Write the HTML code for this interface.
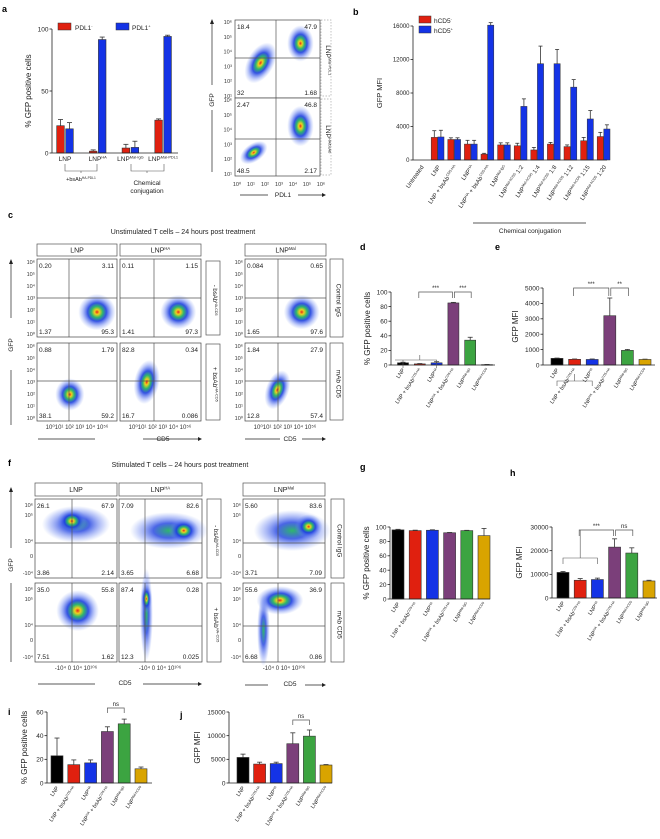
<!DOCTYPE html>
<html><head><meta charset="utf-8">
<style>
html,body{margin:0;padding:0;background:#fff;}
svg{display:block;font-family:"Liberation Sans",Arial,sans-serif;}
</style></head>
<body>
<svg id="fig" width="660" height="839" viewBox="0 0 660 839" xmlns="http://www.w3.org/2000/svg">
<defs>
<radialGradient id="blob" cx="50%" cy="50%" r="50%">
<stop offset="0" stop-color="#e8261a"/>
<stop offset="0.13" stop-color="#f0d020"/>
<stop offset="0.3" stop-color="#2fb86a"/>
<stop offset="0.5" stop-color="#1d3fe0" stop-opacity="0.9"/>
<stop offset="0.8" stop-color="#5a78f0" stop-opacity="0.35"/>
<stop offset="1" stop-color="#7090f0" stop-opacity="0"/>
</radialGradient>
<radialGradient id="blobw" cx="50%" cy="50%" r="50%">
<stop offset="0" stop-color="#2fb86a"/>
<stop offset="0.4" stop-color="#1d3fe0" stop-opacity="0.8"/>
<stop offset="0.8" stop-color="#5a78f0" stop-opacity="0.3"/>
<stop offset="1" stop-color="#7090f0" stop-opacity="0"/>
</radialGradient>
</defs>
<g id="root"></g>
</svg>
<script>
// ---------- DATA ----------
const aCats = ["LNP","LNP^HA","LNP^Mal-IgG","LNP^Mal-PDL1"];
const aNeg = [22, 1.5, 4, 26.5];
const aNegErr = [5, 1, 3, 1];
const aPos = [19.5, 91.5, 4.5, 94];
const aPosErr = [5, 2, 5, 1];
const aTicks = [0, 50, 100];

const bCats = ["Untreated","LNP","LNP + bsAb^CD5-HA","LNP^HA","LNP^HA + bsAb^CD5-HA","LNP^Mal-IgG","LNP^Mal-hCD5 1:2","LNP^Mal-hCD5 1:4","LNP^Mal-hCD5 1:8","LNP^Mal-hCD5 1:12","LNP^Mal-hCD5 1:15","LNP^Mal-hCD5 1:20"];
const bNeg = [0, 2700, 2450, 1900, 700, 1800, 1700, 1200, 1900, 1600, 2300, 2800];
const bNegErr = [0, 800, 200, 450, 100, 250, 300, 300, 200, 200, 400, 500];
const bPos = [0, 2750, 2450, 1900, 16100, 1800, 6400, 11500, 11500, 8700, 4900, 3700];
const bPosErr = [0, 800, 200, 450, 300, 250, 900, 2100, 1700, 900, 1000, 500];
const bTicks = [0, 4000, 8000, 12000, 16000];

const six1 = ["LNP","LNP + bsAb^CD5-HA","LNP^HA","LNP^HA + bsAb^CD5-HA","LNP^Mal-IgG","LNP^Mal-hCD5"];
const six2 = ["LNP","LNP + bsAb^CD5-HA","LNP^HA","LNP^HA + bsAb^CD5-HA","LNP^Mal-hCD5","LNP^Mal-IgG"];
const sixColors = ["#000000","#e0200f","#1433e6","#7b3f7a","#3ca441","#d9a400"];

const dVals = [3, 1.5, 3, 85, 34, 0.5];
const dErr = [0.8, 0.5, 1.5, 0.8, 4, 0.2];
const dTicks = [0, 20, 40, 60, 80, 100];
const eVals = [430, 370, 360, 3200, 950, 360];
const eErr = [20, 20, 30, 1150, 60, 20];
const eTicks = [0, 1000, 2000, 3000, 4000, 5000];
const gVals = [96, 95, 95.5, 92, 95, 88];
const gErr = [0.8, 0.6, 0.6, 0.4, 0.4, 10];
const gTicks = [0, 20, 40, 60, 80, 100];
const hVals = [10800, 7500, 7800, 21500, 19000, 7200];
const hErr = [400, 700, 600, 3500, 2200, 300];
const hTicks = [0, 10000, 20000, 30000];
const iVals = [23, 15.5, 17, 43.5, 50, 12];
const iErr = [15, 4, 2.5, 4, 4, 1.5];
const iTicks = [0, 20, 40, 60];
const jVals = [5400, 4000, 4100, 8300, 9900, 3800];
const jErr = [700, 400, 300, 2300, 1300, 100];
const jTicks = [0, 5000, 10000, 15000];

// ---------- HELPERS ----------
const NS = "http://www.w3.org/2000/svg";
const root = document.getElementById("root");
function el(tag, attrs, parent, txt) {
  const e = document.createElementNS(NS, tag);
  for (const k in attrs) e.setAttribute(k, attrs[k]);
  if (txt !== undefined) e.textContent = txt;
  (parent || root).appendChild(e);
  return e;
}
function label(str, x, y, size, parent, anchor, rot) {
  const parts = str.split("^");
  const t = el("text", {x: x, y: y, "font-size": size, "text-anchor": anchor || "middle", fill: "#222"}, parent);
  if (rot) t.setAttribute("transform", "rotate(" + rot + " " + x + " " + y + ")");
  el("tspan", {}, t, parts[0]);
  for (let p = 1; p < parts.length; p++) {
    const sp = parts[p].split(" ");
    el("tspan", {"font-size": size * 0.6, dy: -size * 0.35}, t, sp[0]);
    const rest = sp.slice(1).join(" ");
    el("tspan", {dy: size * 0.35}, t, rest ? " " + rest : "\u200b");
  }
  return t;
}
function linearY(y0, y1, vmax) { return v => y0 - (v / vmax) * (y0 - y1); }

function axisY(g, x, scale, ticks, size, yTitle, tx) {
  el("line", {x1: x, x2: x, y1: scale(0), y2: scale(ticks[ticks.length - 1]), stroke: "#222", "stroke-width": 0.8}, g);
  ticks.forEach(t => {
    const y = scale(t);
    el("line", {x1: x - 2.5, x2: x, y1: y, y2: y, stroke: "#222", "stroke-width": 0.8}, g);
    el("text", {x: x - 3.5, y: y + size * 0.35, "font-size": size, "text-anchor": "end", fill: "#222"}, g, t);
  });
  if (yTitle) {
    const my = (scale(0) + scale(ticks[ticks.length - 1])) / 2;
    el("text", {x: tx, y: my, "font-size": size + 1.5, "text-anchor": "middle", fill: "#222", transform: "rotate(-90 " + tx + " " + my + ")"}, g, yTitle);
  }
}

function sixBar(name, ax, x0, xEnd, y0, ytop, ticks, vals, errs, cats, title, tx, spacing, bw) {
  const g = el("g", {}, root);
  
  
  const vmax = ticks[ticks.length - 1];
  const sy = linearY(y0, ytop, vmax);
  const sx = i => x0 + i * spacing;
  vals.forEach((v, i) => {
    const x = sx(i);
    const top = sy(v + errs[i]);
    el("line", {x1: x, x2: x, y1: sy(v), y2: top, stroke: "#333", "stroke-width": 0.8}, g);
    el("line", {x1: x - 2.5, x2: x + 2.5, y1: top, y2: top, stroke: "#333", "stroke-width": 0.8}, g);
    const r = el("rect", {x: x - bw / 2, y: sy(v), width: bw, height: Math.max(0.6, y0 - sy(v)), fill: sixColors[i], stroke: "#333", "stroke-width": 0.6}, g);
    
    
    label(cats[i], x + 2, y0 + 5, 5.5, g, "end", -55);
  });
  el("line", {x1: ax, x2: xEnd, y1: y0, y2: y0, stroke: "#222", "stroke-width": 0.8}, g);
  axisY(g, ax, sy, ticks, 6.5, title, tx);
  return {g: g, sx: sx, sy: sy};
}
function bracket(g, x1, x2, y, h, txt) {
  el("path", {d: "M" + x1 + "," + (y + h) + "V" + y + "H" + x2 + "V" + (y + h), fill: "none", stroke: "#555", "stroke-width": 0.7}, g);
  el("text", {x: (x1 + x2) / 2, y: y - 2, "font-size": 6, "text-anchor": "middle", fill: "#222"}, g, txt);
}
function letter(t, x, y) {
  const e = el("text", {x: x, y: y, "font-size": 9, "font-weight": "bold", fill: "#000"}, root, t);
  
  
}

// ---------- PANEL LETTERS ----------
letter("a", 2, 12); letter("b", 353, 15); letter("c", 8, 218); letter("d", 360, 250);
letter("e", 495, 250); letter("f", 8, 466); letter("g", 360, 470); letter("h", 510, 476);
letter("i", 8, 715); letter("j", 180, 718);

// ---------- PANEL A BAR ----------
(function () {
  const g = el("g", {}, root);
  
  
  const y0 = 153, sy = linearY(153, 29, 100);
  const centers = i => 65 + i * 32.7;
  aCats.forEach((c, i) => {
    [[aNeg, aNegErr, "#e0200f", -4.5], [aPos, aPosErr, "#1433e6", 4.5]].forEach(s => {
      const x = centers(i) + s[3], v = s[0][i], t = sy(v + s[1][i]);
      el("line", {x1: x, x2: x, y1: sy(v), y2: t, stroke: "#333", "stroke-width": 0.8}, g);
      el("line", {x1: x - 2.5, x2: x + 2.5, y1: t, y2: t, stroke: "#333", "stroke-width": 0.8}, g);
      const r = el("rect", {x: x - 3.8, y: sy(v), width: 7.6, height: y0 - sy(v), fill: s[2], stroke: "#333", "stroke-width": 0.6}, g);
      
      
    });
    label(c, centers(i), 161, 6.5, g);
  });
  el("line", {x1: 52, x2: 178, y1: y0, y2: y0, stroke: "#222", "stroke-width": 0.8}, g);
  axisY(g, 52, sy, aTicks, 6.5, "% GFP positive cells", 31);
  el("rect", {x: 58, y: 23, width: 13, height: 7, fill: "#e0200f", stroke: "#333", "stroke-width": 0.5}, g);
  label("PDL1^-", 75, 30, 6.5, g, "start");
  el("rect", {x: 116, y: 23, width: 13, height: 7, fill: "#1433e6", stroke: "#333", "stroke-width": 0.5}, g);
  label("PDL1^+", 132, 30, 6.5, g, "start");
  el("path", {d: "M65,164V171H97V164M81,171V173", fill: "none", stroke: "#555", "stroke-width": 0.6}, g);
  label("+bsAb^HA-PDL1", 81, 181, 5.5, g);
  el("path", {d: "M131,164V171H164V164M147,171V173", fill: "none", stroke: "#555", "stroke-width": 0.6}, g);
  el("text", {x: 147, y: 185, "font-size": 6.5, "text-anchor": "middle", fill: "#222"}, g, "Chemical");
  el("text", {x: 147, y: 193, "font-size": 6.5, "text-anchor": "middle", fill: "#222"}, g, "conjugation");
})();

// ---------- FLOW PLOTS ----------
function flow(name, x, y, w, h, qx, qy, nums, blobs, g) {
  const f = el("g", {}, g || root);
  
  
  el("rect", {x: x, y: y, width: w, height: h, fill: "#fff", stroke: "#444", "stroke-width": 0.7}, f);
  blobs.forEach(b => el("ellipse", {cx: x + b[0] * w, cy: y + b[1] * h, rx: b[2] * w * 1.3, ry: b[3] * h * 1.3, fill: b[5] ? "url(#blobw)" : "url(#blob)", transform: "rotate(" + (b[4] || 0) + " " + (x + b[0] * w) + " " + (y + b[1] * h) + ")"}, f));
  el("line", {x1: qx, x2: qx, y1: y, y2: y + h, stroke: "#555", "stroke-width": 0.7}, f);
  el("line", {x1: x, x2: x + w, y1: qy, y2: qy, stroke: "#555", "stroke-width": 0.7}, f);
  const s = 6.5;
  el("text", {x: x + 2, y: y + 9, "font-size": s, fill: "#222"}, f, nums[0]);
  el("text", {x: x + w - 3, y: y + 9, "font-size": s, "text-anchor": "end", fill: "#222"}, f, nums[1]);
  el("text", {x: x + 2, y: y + h - 3, "font-size": s, fill: "#222"}, f, nums[2]);
  el("text", {x: x + w - 3, y: y + h - 3, "font-size": s, "text-anchor": "end", fill: "#222"}, f, nums[3]);
}
function box(name, x, y, w, h, txt, rot, fs, dashed) {
  const g = el("g", {}, root);
  
  
  el("rect", {x: x, y: y, width: w, height: h, fill: "#fff", stroke: dashed ? "#aaa" : "#555", "stroke-width": 0.7, "stroke-dasharray": dashed ? "1.5,1.5" : "none"}, g);
  const cx = x + w / 2, cy = y + h / 2;
  label(txt, cx, cy + fs * 0.35, fs, g, "middle", rot);
}
function yTicksLog(x, y, h, labels, fs) {
  labels.forEach((l, i) => {
    const yy = y + h - (i / (labels.length - 1)) * h;
    el("text", {x: x - 2, y: yy + 2, "font-size": fs, "text-anchor": "end", fill: "#333"}, root, l);
  });
}

// Panel a flow
flow("flow-a-top", 235, 20, 85, 78, 276, 58, ["18.4", "47.9", "32", "1.68"], [[0.3, 0.55, 0.12, 0.22, 30], [0.77, 0.3, 0.12, 0.18, 0]]);
flow("flow-a-bottom", 235, 98, 85, 78, 276, 139, ["2.47", "46.8", "48.5", "2.17"], [[0.22, 0.7, 0.14, 0.09, -35], [0.77, 0.36, 0.12, 0.2, 0]]);
yTicksLog(234, 22, 74, ["10¹", "10²", "10³", "10⁴", "10⁵", "10⁶"], 5.5);
yTicksLog(234, 100, 74, ["10¹", "10²", "10³", "10⁴", "10⁵", "10⁶"], 5.5);
(function () {
  const labs = ["10⁰", "10¹", "10²", "10³", "10⁴", "10⁵", "10⁶"];
  labs.forEach((l, i) => el("text", {x: 237 + i * 14, y: 186, "font-size": 5.5, "text-anchor": "middle", fill: "#333"}, root, l));
  el("text", {x: 283, y: 197, "font-size": 6.5, "text-anchor": "middle", fill: "#222"}, root, "PDL1");
  el("line", {x1: 240, x2: 268, y1: 195, y2: 195, stroke: "#222", "stroke-width": 0.7});
  el("line", {x1: 298, x2: 322, y1: 195, y2: 195, stroke: "#222", "stroke-width": 0.7});
  el("path", {d: "M322,193L326,195L322,197Z", fill: "#222"});
  el("line", {x1: 212, x2: 212, y1: 22, y2: 85, stroke: "#222", "stroke-width": 0.7});
  el("line", {x1: 212, x2: 212, y1: 110, y2: 172, stroke: "#222", "stroke-width": 0.7});
  el("path", {d: "M210,24L212,19L214,24Z", fill: "#222"});
  el("text", {x: 214, y: 100, "font-size": 6.5, "text-anchor": "middle", fill: "#222", transform: "rotate(-90 214 100)"}, root, "GFP");
})();
box("label-lnp-mal-pdl1", 321, 20, 10, 76, "LNP^Mal-PDL1", 90, 6.5, true);
box("label-lnp-ha-bsab", 321, 99, 10, 76, "LNP^HA/bsAb", 90, 6.5, true);

// ---------- PANEL B ----------
(function () {
  const g = el("g", {}, root);
  
  
  const y0 = 160, sy = linearY(160, 26, 16000);
  const cx = i => 421 + i * 16.6;
  bCats.forEach((c, i) => {
    [[bNeg, bNegErr, "#e0200f", -3.3], [bPos, bPosErr, "#1433e6", 3.3]].forEach(s => {
      const x = cx(i) + s[3], v = s[0][i];
      if (v <= 0) return;
      const t = sy(v + s[1][i]);
      el("line", {x1: x, x2: x, y1: sy(v), y2: t, stroke: "#333", "stroke-width": 0.8}, g);
      el("line", {x1: x - 2, x2: x + 2, y1: t, y2: t, stroke: "#333", "stroke-width": 0.8}, g);
      const r = el("rect", {x: x - 3.1, y: sy(v), width: 6.2, height: y0 - sy(v), fill: s[2], stroke: "#333", "stroke-width": 0.5}, g);
      
      
    });
    label(c, cx(i) + 3, 167, 6, g, "end", -55);
  });
  el("line", {x1: 413, x2: 607, y1: y0, y2: y0, stroke: "#222", "stroke-width": 0.8}, g);
  axisY(g, 413, sy, bTicks, 6, "GFP MFI", 382);
  el("rect", {x: 419, y: 16, width: 12, height: 7, fill: "#e0200f", stroke: "#333", "stroke-width": 0.5}, g);
  label("hCD5^-", 434, 23, 6.5, g, "start");
  el("rect", {x: 419, y: 26, width: 12, height: 7, fill: "#1433e6", stroke: "#333", "stroke-width": 0.5}, g);
  label("hCD5^+", 434, 33, 6.5, g, "start");
  el("line", {x1: 473, x2: 586, y1: 223, y2: 223, stroke: "#222", "stroke-width": 0.7}, g);
  el("text", {x: 530, y: 233, "font-size": 6.5, "text-anchor": "middle", fill: "#222"}, g, "Chemical conjugation");
})();

// ---------- PANEL C ----------
el("text", {x: 183, y: 234, "font-size": 7, "text-anchor": "middle", fill: "#222"}, root, "Unstimulated T cells – 24 hours post treatment");
box("header-c-lnp", 37, 244, 80, 12, "LNP", 0, 7);
box("header-c-lnpha", 120, 244, 81, 12, "LNP^HA", 0, 7);
box("header-c-lnpmal", 245, 244, 81, 12, "LNP^Mal", 0, 7);
flow("flow-c-1", 37, 259, 80, 78, 69, 298, ["0.20", "3.11", "1.37", "95.3"], [[0.75, 0.68, 0.18, 0.18, 0]]);
flow("flow-c-2", 120, 259, 81, 78, 154, 298, ["0.11", "1.15", "1.41", "97.3"], [[0.72, 0.68, 0.17, 0.17, 0]]);
flow("flow-c-3", 245, 259, 81, 78, 278, 298, ["0.084", "0.65", "1.65", "97.6"], [[0.7, 0.68, 0.17, 0.17, 0]]);
flow("flow-c-4", 37, 343, 80, 78, 69, 381, ["0.88", "1.79", "38.1", "59.2"], [[0.41, 0.66, 0.14, 0.16, 0]]);
flow("flow-c-5", 120, 343, 81, 78, 154, 381, ["82.8", "0.34", "16.7", "0.086"], [[0.33, 0.5, 0.12, 0.22, 10]]);
flow("flow-c-6", 245, 343, 81, 78, 278, 381, ["1.84", "27.9", "12.8", "57.4"], [[0.4, 0.6, 0.11, 0.2, 20]]);
box("side-c-minus", 206, 261, 14, 74, "- bsAb^HA-CD5", 90, 6);
box("side-c-plus", 206, 344, 14, 76, "+ bsAb^HA-CD5", 90, 6.5);
box("side-c-control", 330, 259, 13, 78, "Control IgG", 90, 6.5);
box("side-c-mab", 330, 343, 13, 77, "mAb CD5", 90, 6.5);
[37, 245].forEach(x => { yTicksLog(x, 262, 72, ["10⁰", "10¹", "10²", "10³", "10⁴", "10⁵", "10⁶"], 5.5); yTicksLog(x, 346, 72, ["10⁰", "10¹", "10²", "10³", "10⁴", "10⁵", "10⁶"], 5.5); });
[37, 120, 245].forEach(x => {
  el("text", {x: x + 40, y: 429, "font-size": 6, "text-anchor": "middle", fill: "#333"}, root, "10⁰10¹ 10² 10³ 10⁴ 10⁵⁶");
});
el("text", {x: 163, y: 441, "font-size": 6.5, "text-anchor": "middle", fill: "#222"}, root, "CD5");
el("line", {x1: 38, x2: 95, y1: 439, y2: 439, stroke: "#222", "stroke-width": 0.7});
el("line", {x1: 143, x2: 198, y1: 439, y2: 439, stroke: "#222", "stroke-width": 0.7});
el("path", {d: "M198,437L202,439L198,441Z", fill: "#222"});
el("text", {x: 290, y: 441, "font-size": 6.5, "text-anchor": "middle", fill: "#222"}, root, "CD5");
el("line", {x1: 245, x2: 280, y1: 439, y2: 439, stroke: "#222", "stroke-width": 0.7});
el("line", {x1: 302, x2: 322, y1: 439, y2: 439, stroke: "#222", "stroke-width": 0.7});
el("path", {d: "M322,437L326,439L322,441Z", fill: "#222"});
el("line", {x1: 11, x2: 11, y1: 262, y2: 318, stroke: "#222", "stroke-width": 0.7});
el("path", {d: "M9,264L11,259L13,264Z", fill: "#222"});
el("line", {x1: 11, x2: 11, y1: 370, y2: 425, stroke: "#222", "stroke-width": 0.7});
el("text", {x: 13, y: 345, "font-size": 6.5, "text-anchor": "middle", fill: "#222", transform: "rotate(-90 13 345)"}, root, "GFP");

// ---------- PANEL D, E ----------
(function () {
  const d = sixBar("panel-d-bar-chart", 391, 403, 495, 365, 292, dTicks, dVals, dErr, six1, "% GFP positive cells", 370, 16.8, 11);
  el("path", {d: "M" + d.sx(0) + ",368V360 M" + (d.sx(0) - 8) + ",360H" + d.sx(2) + "V368 M" + d.sx(1) + ",360V355", fill: "none", stroke: "#555", "stroke-width": 0.6}, d.g);
  bracket(d.g, d.sx(1) - 1, d.sx(3) - 1, 292, 6, "***");
  bracket(d.g, d.sx(3) + 1, d.sx(4) + 1, 292, 6, "***");
  const e = sixBar("panel-e-bar-chart", 543, 557, 655, 365, 288, eTicks, eVals, eErr, six1, "GFP MFI", 518, 17.6, 12);
  el("path", {d: "M" + e.sx(0) + ",386V381H" + e.sx(2) + "V386 M" + e.sx(1) + ",381V374", fill: "none", stroke: "#555", "stroke-width": 0.6}, e.g);
  bracket(e.g, e.sx(1) - 1, e.sx(3) - 1, 288, 8, "***");
  bracket(e.g, e.sx(3) + 1, e.sx(4) + 1, 288, 8, "**");
})();

// ---------- PANEL F ----------
el("text", {x: 180, y: 467, "font-size": 7, "text-anchor": "middle", fill: "#222"}, root, "Stimulated T cells – 24 hours post treatment");
box("header-f-lnp", 35, 483, 82, 13, "LNP", 0, 7);
box("header-f-lnpha", 119, 483, 83, 13, "LNP^HA", 0, 7);
box("header-f-lnpmal", 243, 483, 82, 13, "LNP^Mal", 0, 7);
flow("flow-f-1", 35, 499, 82, 79, 72, 543, ["26.1", "67.9", "3.86", "2.14"], [[0.5, 0.32, 0.32, 0.18, 0, 1], [0.45, 0.28, 0.14, 0.12, 0]]);
flow("flow-f-2", 119, 499, 83, 79, 145, 543, ["7.09", "82.6", "3.65", "6.68"], [[0.6, 0.4, 0.36, 0.18, 0, 1], [0.78, 0.4, 0.14, 0.12, 0]]);
flow("flow-f-3", 243, 499, 82, 79, 278, 543, ["5.60", "83.6", "3.71", "7.09"], [[0.6, 0.4, 0.36, 0.2, 0, 1], [0.8, 0.35, 0.13, 0.12, 0]]);
flow("flow-f-4", 35, 583, 82, 79, 72, 626, ["35.0", "55.8", "7.51", "1.62"], [[0.52, 0.35, 0.2, 0.2, 0]]);
flow("flow-f-5", 119, 583, 83, 79, 145, 626, ["87.4", "0.28", "12.3", "0.025"], [[0.33, 0.4, 0.06, 0.45, 0, 1], [0.33, 0.2, 0.05, 0.14, 0]]);
flow("flow-f-6", 243, 583, 82, 79, 278, 626, ["55.6", "36.9", "6.68", "0.86"], [[0.45, 0.22, 0.22, 0.14, 0], [0.25, 0.6, 0.06, 0.35, 0, 1]]);
box("side-f-minus", 207, 499, 14, 79, "- bsAb^HA-CD5", 90, 6);
box("side-f-plus", 207, 583, 14, 79, "+ bsAb^HA-CD5", 90, 6.5);
box("side-f-control", 331, 499, 13, 79, "Control IgG", 90, 6.5);
box("side-f-mab", 331, 583, 13, 79, "mAb CD5", 90, 6.5);
[35, 243].forEach(x => {
  [499, 583].forEach(y => {
    const ys = [74, 57, 42, 16, 6];
    ["-10⁴", "0", "10⁴", "10⁵", "10⁶"].forEach((l, i) => el("text", {x: x - 2, y: y + ys[i] + 2, "font-size": 5.5, "text-anchor": "end", fill: "#333"}, root, l));
  });
});
[35, 119, 243].forEach(x => {
  el("text", {x: x + 41, y: 670, "font-size": 6, "text-anchor": "middle", fill: "#333"}, root, "-10⁴  0    10⁴  10¹⁰⁶");
});
el("text", {x: 125, y: 685, "font-size": 6.5, "text-anchor": "middle", fill: "#222"}, root, "CD5");
el("line", {x1: 38, x2: 95, y1: 684, y2: 684, stroke: "#222", "stroke-width": 0.7});
el("line", {x1: 143, x2: 198, y1: 684, y2: 684, stroke: "#222", "stroke-width": 0.7});
el("path", {d: "M198,682L202,684L198,686Z", fill: "#222"});
el("text", {x: 290, y: 686, "font-size": 6.5, "text-anchor": "middle", fill: "#222"}, root, "CD5");
el("line", {x1: 245, x2: 268, y1: 685, y2: 685, stroke: "#222", "stroke-width": 0.7});
el("line", {x1: 305, x2: 322, y1: 685, y2: 685, stroke: "#222", "stroke-width": 0.7});
el("path", {d: "M322,683L326,685L322,687Z", fill: "#222"});
el("line", {x1: 11, x2: 11, y1: 490, y2: 548, stroke: "#222", "stroke-width": 0.7});
el("path", {d: "M9,492L11,487L13,492Z", fill: "#222"});
el("line", {x1: 11, x2: 11, y1: 583, y2: 662, stroke: "#222", "stroke-width": 0.7});
el("text", {x: 13, y: 565, "font-size": 6.5, "text-anchor": "middle", fill: "#222", transform: "rotate(-90 13 565)"}, root, "GFP");

// ---------- PANEL G, H ----------
(function () {
  sixBar("panel-g-bar-chart", 390, 398, 490, 599, 527, gTicks, gVals, gErr, six1, "% GFP positive cells", 369, 17.2, 12);
  const h = sixBar("panel-h-bar-chart", 552, 563, 657, 598, 527, hTicks, hVals, hErr, six2, "GFP MFI", 522, 17.2, 12);
  el("path", {d: "M" + h.sx(0) + ",564V558H" + h.sx(2) + "V564 M" + h.sx(1) + ",558V530", fill: "none", stroke: "#555", "stroke-width": 0.6}, h.g);
  bracket(h.g, h.sx(1) - 1, h.sx(3) - 1, 530, 6, "***");
  bracket(h.g, h.sx(3) + 1, h.sx(4) + 1, 530, 6, "ns");
})();

// ---------- PANEL I, J ----------
(function () {
  const i = sixBar("panel-i-bar-chart", 47, 57, 152, 783, 712, iTicks, iVals, iErr, six1, "% GFP positive cells", 27, 16.8, 12);
  bracket(i.g, i.sx(3), i.sx(4), 708, 5, "ns");
  const j = sixBar("panel-j-bar-chart", 229, 243, 332, 783, 712, jTicks, jVals, jErr, six1, "GFP MFI", 200, 16.6, 12);
  bracket(j.g, j.sx(3), j.sx(4), 720, 5, "ns");
})();
</script>
</body></html>
